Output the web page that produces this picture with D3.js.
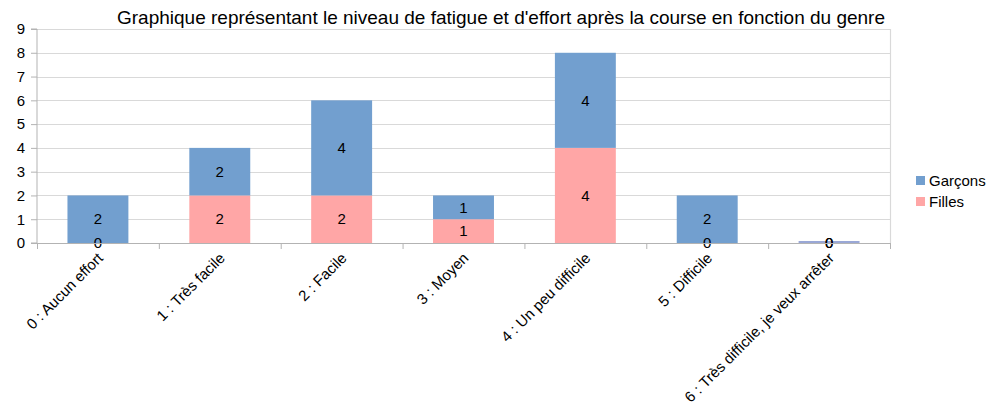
<!DOCTYPE html>
<html>
<head>
<meta charset="utf-8">
<script src="https://d3js.org/d3.v7.min.js"></script>
<style>
  body { margin: 0; background: #fff; }
  text { font-family: "Liberation Sans", Arial, sans-serif; fill: #000; }
</style>
</head>
<body>
<script>
// data
var categories = ["0 : Aucun effort", "1 : Très facile", "2 : Facile", "3 : Moyen",
                  "4 : Un peu difficile", "5 : Difficile", "6 : Très difficile, je veux arrêter"];
var filles  = [0, 2, 2, 1, 4, 0, 0];
var garcons = [2, 2, 4, 1, 4, 2, 0];
var yTicks = [0, 1, 2, 3, 4, 5, 6, 7, 8, 9];
var seriesNames = ["Garçons", "Filles"];

var width = 1002, height = 409;
var margin = {top: 29, left: 37, right: 112, bottom: 166};

var svg = d3.select("body").append("svg")
    .attr("width", width)
    .attr("height", height);

var x = d3.scaleBand()
    .domain(categories)
    .range([margin.left, width - margin.right])
    .paddingInner(0.5)
    .paddingOuter(0.25);

var y = d3.scaleLinear()
    .domain([0, 9])
    .range([height - margin.bottom, margin.top]);

var step = x.step();

// gridlines
svg.append("g").selectAll("line")
    .data(yTicks)
    .enter().append("line")
    .attr("x1", margin.left)
    .attr("x2", width - margin.right)
    .attr("y1", function (d) { return Math.round(y(d)) + 0.5; })
    .attr("y2", function (d) { return Math.round(y(d)) + 0.5; })
    .attr("stroke", "#d9d9d9")
    .attr("stroke-width", 1.2);

// right border
svg.append("line")
    .attr("x1", width - margin.right + 0.5).attr("x2", width - margin.right + 0.5)
    .attr("y1", margin.top).attr("y2", y(0))
    .attr("stroke", "#d9d9d9").attr("stroke-width", 1.2);

// stacked bars
var rows = categories.map(function (c, i) { return {cat: c, filles: filles[i], garcons: garcons[i]}; });
var stack = d3.stack().keys(["filles", "garcons"]);
var layers = stack(rows);
var colors = {filles: "#ffa6a6", garcons: "#729fcf"};

layers.forEach(function (layer) {
  var key = layer.key;
  svg.append("g").selectAll("rect")
      .data(layer)
      .enter().append("rect")
      .attr("x", function (d) { return x(d.data.cat); })
      .attr("width", x.bandwidth())
      .attr("y", function (d) { return y(d[1]); })
      .attr("height", function (d) { return Math.max(y(d[0]) - y(d[1]), 0); })
      .attr("fill", colors[key]);
});

// empty category gets a thin line
svg.append("g").selectAll("line")
    .data(rows.filter(function (d) { return d.filles + d.garcons === 0; }))
    .enter().append("line")
    .attr("x1", function (d) { return x(d.cat); })
    .attr("x2", function (d) { return x(d.cat) + x.bandwidth(); })
    .attr("y1", y(0) - 1).attr("y2", y(0) - 1)
    .attr("stroke", "#9aa8d6").attr("stroke-width", 2);

// value labels
layers.forEach(function (layer) {
  svg.append("g").selectAll("text")
      .data(layer)
      .enter().append("text")
      .attr("x", function (d) { return x(d.data.cat) + x.bandwidth() / 2; })
      .attr("y", function (d) { return (y(d[0]) + y(d[1])) / 2; })
      .attr("dy", "0.35em")
      .attr("text-anchor", "middle")
      .style("font-size", "15px")
      .text(function (d) { return d[1] - d[0]; });
});

// y axis
var yAxis = d3.axisLeft(y).tickValues(yTicks).tickSize(6).tickPadding(6);
var gy = svg.append("g")
    .attr("transform", "translate(" + margin.left + ",0)")
    .call(yAxis);
gy.selectAll("text").style("font-size", "15px").attr("fill", "#000");
gy.selectAll("line").attr("stroke", "#b3b3b3");
gy.select(".domain").attr("stroke", "#b3b3b3").attr("d", "M-6," + y(9) + "H0V" + y(0) + "H-6");

// x axis
var xAxis = d3.axisBottom(x).tickSize(0).tickFormat("");
var gx = svg.append("g")
    .attr("transform", "translate(0," + y(0) + ")")
    .call(xAxis);
gx.select(".domain").attr("stroke", "#b3b3b3");
// category boundary ticks
svg.append("g").selectAll("line")
    .data(d3.range(categories.length + 1))
    .enter().append("line")
    .attr("x1", function (i) { return margin.left + i * step + 0.5; })
    .attr("x2", function (i) { return margin.left + i * step + 0.5; })
    .attr("y1", y(0)).attr("y2", y(0) + 6)
    .attr("stroke", "#b3b3b3");

// rotated category labels
svg.append("g").selectAll("text")
    .data(categories)
    .enter().append("text")
    .attr("transform", function (d) {
      return "translate(" + (x(d) + x.bandwidth() / 2 + 6) + "," + (y(0) + 16) + ") rotate(-45)";
    })
    .attr("text-anchor", "end")
    .style("font-size", "15px")
    .text(function (d) { return d; });

// title
svg.append("text")
    .attr("x", 501)
    .attr("y", 24)
    .attr("text-anchor", "middle")
    .style("font-size", "19px")
    .text("Graphique représentant le niveau de fatigue et d'effort après la course en fonction du genre");

// legend
var legend = svg.append("g").attr("transform", "translate(916,176)");
seriesNames.forEach(function (name, i) {
  var row = legend.append("g").attr("transform", "translate(0," + (i * 21) + ")");
  row.append("rect").attr("width", 9).attr("height", 9)
      .attr("fill", name === "Filles" ? colors.filles : colors.garcons);
  row.append("text").attr("x", 13).attr("y", 5).attr("dy", "0.35em")
      .style("font-size", "15px").text(name);
});
</script>
</body>
</html>
